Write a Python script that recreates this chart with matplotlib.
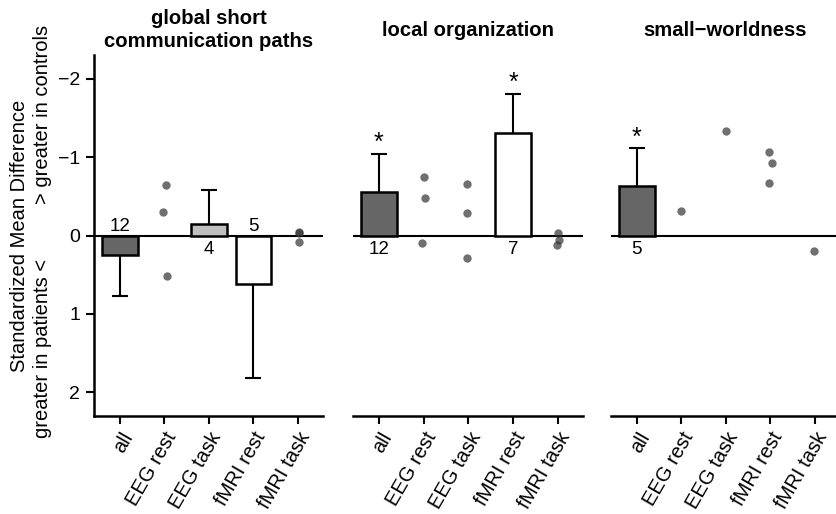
import matplotlib
matplotlib.use('Agg')
import matplotlib.pyplot as plt
import numpy as np

plt.rcParams['font.family'] = ['Liberation Sans', 'DejaVu Sans']

categories = ['all', 'EEG rest', 'EEG task', 'fMRI rest', 'fMRI task']
titles = ['global short\ncommunication paths', 'local organization', 'small\u2212worldness']
nan = np.nan

# pooled effect (bar) values, error-bar ends, study counts, significance
global_bar = [0.25, nan, -0.15, 0.62, nan]
global_err = [0.77, nan, -0.58, 1.82, nan]
global_n = ['12', '', '4', '5', '']
global_sig = [False, False, False, False, False]
global_points = {'EEG rest': [-0.64, -0.30, 0.52], 'fMRI task': [-0.05, -0.03, 0.08]}
global_jitter = {'EEG rest': [0.03, -0.03, 0.06], 'fMRI task': [0.02, 0.02, 0.02]}

local_bar = [-0.55, nan, nan, -1.31, nan]
local_err = [-1.04, nan, nan, -1.80, nan]
local_n = ['12', '', '', '7', '']
local_sig = [True, False, False, True, False]
local_points = {'EEG rest': [-0.75, -0.48, 0.10], 'EEG task': [-0.65, -0.29, 0.29],
                'fMRI task': [-0.03, 0.06, 0.12]}
local_jitter = {'EEG rest': [0.0, 0.03, -0.03], 'EEG task': [-0.03, -0.02, -0.04],
                'fMRI task': [0.0, 0.04, -0.02]}

sw_bar = [-0.63, nan, nan, nan, nan]
sw_err = [-1.11, nan, nan, nan, nan]
sw_n = ['5', '', '', '', '']
sw_sig = [True, False, False, False, False]
sw_points = {'EEG rest': [-0.31], 'EEG task': [-1.33], 'fMRI rest': [-1.06, -0.92, -0.67],
             'fMRI task': [0.20]}
sw_jitter = {'EEG rest': [-0.01], 'EEG task': [0.01], 'fMRI rest': [-0.02, 0.04, -0.02],
             'fMRI task': [-0.01]}

bar_colors = {'all': '#666666', 'EEG task': '#bfbfbf', 'fMRI rest': '#ffffff',
              'EEG rest': '#ffffff', 'fMRI task': '#ffffff'}

panels = [
    (global_bar, global_err, global_n, global_sig, global_points, global_jitter),
    (local_bar, local_err, local_n, local_sig, local_points, local_jitter),
    (sw_bar, sw_err, sw_n, sw_sig, sw_points, sw_jitter),
]

W, H = 836, 514
fig = plt.figure(figsize=(W / 100, H / 100), dpi=100)

lefts_px = [94, 353, 611]
widths_px = [229, 230, 229]
top_px, bot_px = 55, 416

x = np.arange(len(categories))
for i, (bars, errs, ns, sig, pts, jit) in enumerate(panels):
    ax = fig.add_axes([lefts_px[i] / W, (H - bot_px) / H, widths_px[i] / W, (bot_px - top_px) / H])
    ax.set_xlim(-0.58, len(categories) - 1 + 0.566)
    ax.set_ylim(2.3, -2.3)
    ax.axhline(0, color='black', lw=1.5, zorder=2)
    for j, cat in enumerate(categories):
        v = bars[j]
        if not np.isnan(v):
            ax.bar(x[j], v, width=0.8, color=bar_colors[cat], edgecolor='black', lw=1.8, zorder=3)
            e = errs[j]
            ax.plot([x[j], x[j]], [v, e], color='black', lw=1.5, zorder=2.5, solid_capstyle='butt')
            ax.plot([x[j]], [e], marker='_', markersize=11, mew=1.5, color='black', zorder=2.5)
            if sig[j]:
                ax.text(x[j], e - 0.05, '*', ha='center', va='baseline', fontsize=18)
            if v < 0:
                ax.text(x[j], 0.18, ns[j], ha='center', va='center', fontsize=13.5)
            else:
                ax.text(x[j], -0.12, ns[j], ha='center', va='center', fontsize=13.5)
        if cat in pts:
            ys = pts[cat]
            xs = x[j] + np.array(jit[cat])
            ax.plot(xs, ys, 'o', color='#333333', alpha=0.7, markersize=6, mew=0, zorder=4)

    ax.text(0.5, 1 + (top_px - 30) / (bot_px - top_px), titles[i], transform=ax.transAxes,
            ha='center', va='center', fontsize=14.6, fontweight='bold', linespacing=1.25)

    ax.set_xticks(x)
    ax.set_xticklabels(categories, rotation=60, ha='right', va='top', rotation_mode='anchor',
                       fontsize=14.5)
    ax.tick_params(axis='x', length=6, width=1.5, pad=3)
    for s in ['top', 'right']:
        ax.spines[s].set_visible(False)
    ax.spines['bottom'].set_linewidth(1.8)
    if i == 0:
        ax.spines['left'].set_linewidth(1.8)
        ax.set_yticks([-2, -1, 0, 1, 2])
        ax.tick_params(axis='y', length=6, width=1.5, labelsize=14, pad=4)
    else:
        ax.spines['left'].set_visible(False)
        ax.set_yticks([])

fig.text(20 / W, 1 - 236 / H, 'Standardized Mean Difference', rotation=90,
         ha='center', va='center', fontsize=14.5)
fig.text(43 / W, 1 - 204 / H, '> greater in controls', rotation=90,
         ha='center', va='bottom', fontsize=14.5)
fig.text(43 / W, 1 - 259 / H, 'greater in patients <', rotation=90,
         ha='center', va='top', fontsize=14.5)

fig.savefig('out.png', dpi=100)
